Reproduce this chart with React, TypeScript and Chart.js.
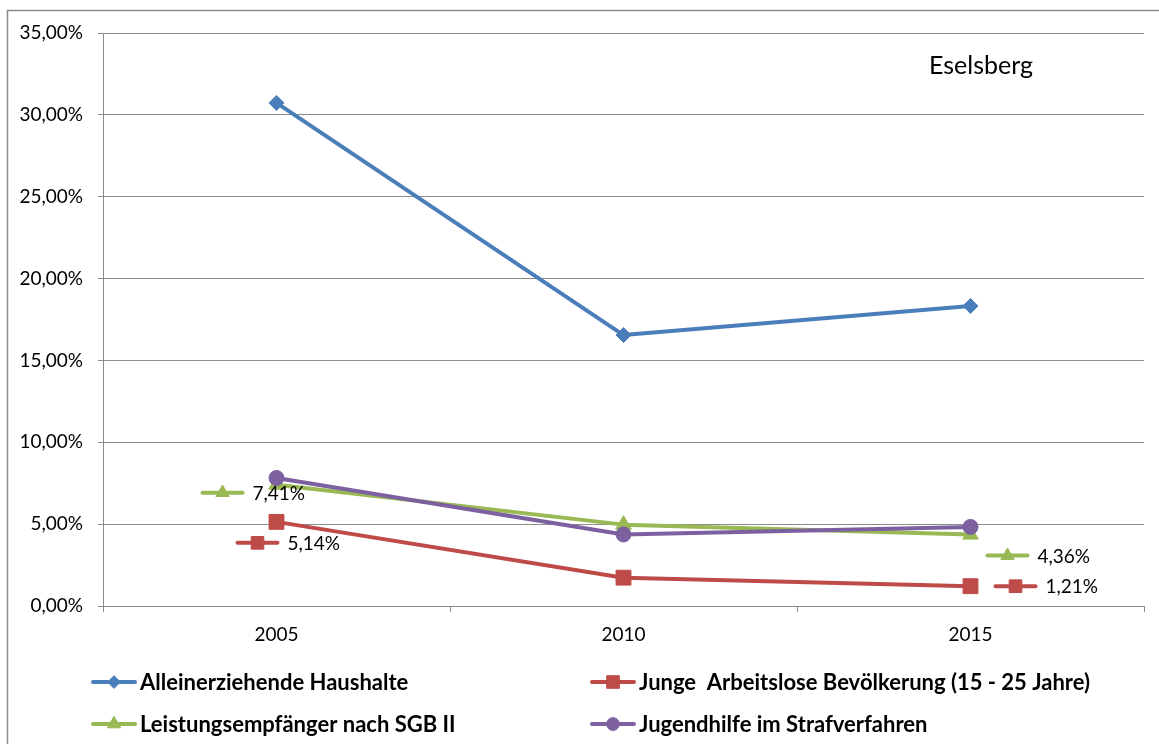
import React, { useEffect, useRef } from 'react';
import { Chart, registerables } from 'chart.js';

Chart.register(...registerables);

// Categories and series (values in percent)
const years = ['2005', '2010', '2015'];
const alleinerziehende = [30.73, 16.55, 18.33];
const jungeArbeitslose = [5.14, 1.73, 1.21];
const leistungsempfaenger = [7.41, 4.97, 4.36];
const jugendhilfe = [7.82, 4.37, 4.83];

const seriesNames = [
  'Alleinerziehende Haushalte',
  'Junge  Arbeitslose Bevölkerung (15 - 25 Jahre)',
  'Leistungsempfänger nach SGB II',
  'Jugendhilfe im Strafverfahren',
];

const chartTitle = 'Eselsberg';
const yMin = 0;
const yMax = 35;
const yStep = 5;

// Which points carry a value label: [series index, category index]
const labelledPoints: [number, number][] = [
  [2, 0],
  [1, 0],
  [2, 2],
  [1, 2],
];

// Styling
const colors = ['#4A7EBB', '#BE4B48', '#98B954', '#7D60A0'];
const pointStyles = ['rectRot', 'rect', 'triangle', 'circle'];
const pointRadii = [7.5, 10.5, 9, 7.5];
const gridColor = '#8c8c8c';
const labelOffsets: [number, number][] = [
  [-54, 8],
  [-19, 21],
  [37, 21],
  [45, 0],
];
const legendSlots: [number, number][] = [
  [93, 682],
  [592, 682],
  [93, 724],
  [592, 724],
];

const fmtPct = (v: number) => v.toFixed(2).replace('.', ',') + '%';

function drawMarker(
  ctx: CanvasRenderingContext2D,
  style: string,
  x: number,
  y: number,
  r: number,
  color: string
) {
  ctx.save();
  ctx.fillStyle = color;
  ctx.strokeStyle = color;
  ctx.lineWidth = 1;
  ctx.beginPath();
  if (style === 'rectRot') {
    ctx.moveTo(x, y - r);
    ctx.lineTo(x + r, y);
    ctx.lineTo(x, y + r);
    ctx.lineTo(x - r, y);
    ctx.closePath();
  } else if (style === 'rect') {
    const s = r * Math.SQRT1_2;
    ctx.rect(x - s, y - s, 2 * s, 2 * s);
  } else if (style === 'triangle') {
    const half = (r * Math.sqrt(3)) / 2;
    ctx.moveTo(x, y - r);
    ctx.lineTo(x + half, y + r / 2);
    ctx.lineTo(x - half, y + r / 2);
    ctx.closePath();
  } else {
    ctx.arc(x, y, r, 0, Math.PI * 2);
  }
  ctx.fill();
  ctx.stroke();
  ctx.restore();
}

// Short line with marker, as used in the legend and value labels
function drawKey(ctx: CanvasRenderingContext2D, series: number, x0: number, y: number, len: number) {
  ctx.save();
  ctx.strokeStyle = colors[series];
  ctx.lineWidth = 4;
  ctx.lineCap = 'round';
  ctx.beginPath();
  ctx.moveTo(x0, y);
  ctx.lineTo(x0 + len, y);
  ctx.stroke();
  ctx.restore();
  drawMarker(ctx, pointStyles[series], x0 + len / 2, y, pointRadii[series] * 0.85, colors[series]);
}

const decorPlugin = {
  id: 'decor',
  beforeDraw(chart: Chart) {
    const ctx = chart.ctx;
    ctx.save();
    ctx.fillStyle = '#ffffff';
    ctx.fillRect(0, 0, chart.width, chart.height);
    ctx.strokeStyle = gridColor;
    ctx.lineWidth = 1.5;
    ctx.strokeRect(7.5, 10.5, chart.width + 20, chart.height + 20);
    ctx.restore();
  },
  afterDraw(chart: Chart) {
    const ctx = chart.ctx;
    const area = chart.chartArea;
    ctx.save();
    // Title inside the plot
    ctx.fillStyle = '#000';
    ctx.font = '25px Lato, "Noto Sans", sans-serif';
    ctx.textAlign = 'left';
    ctx.textBaseline = 'alphabetic';
    ctx.fillText(chartTitle, area.right - 215, area.top + 41);

    // Value labels with their series key
    ctx.font = '19px Lato, "Noto Sans", sans-serif';
    ctx.textBaseline = 'middle';
    labelledPoints.forEach(([s, i], k) => {
      const el: any = chart.getDatasetMeta(s).data[i];
      const v = (chart.data.datasets[s].data as number[])[i];
      const [dx, dy] = labelOffsets[k];
      const cx = el.x + dx;
      const cy = el.y + dy;
      drawKey(ctx, s, cx - 20, cy, 40);
      ctx.fillStyle = '#000';
      ctx.fillText(fmtPct(v), cx + 30, cy + 1);
    });

    // Legend in two columns
    ctx.font = 'bold 22px Lato, "Noto Sans", sans-serif';
    ctx.textBaseline = 'middle';
    chart.data.datasets.forEach((ds, s) => {
      const [lx, ly] = legendSlots[s];
      drawKey(ctx, s, lx, ly, 42);
      ctx.fillStyle = '#000';
      ctx.fillText(String(ds.label), lx + 47, ly + 1);
    });
    ctx.restore();
  },
};

export default function App() {
  const canvasRef = useRef<HTMLCanvasElement | null>(null);

  useEffect(() => {
    if (!canvasRef.current) return;
    const seriesData = [alleinerziehende, jungeArbeitslose, leistungsempfaenger, jugendhilfe];
    const chart = new Chart(canvasRef.current, {
      type: 'line',
      data: {
        labels: years,
        datasets: seriesData.map((d, s) => ({
          label: seriesNames[s],
          data: d,
          borderColor: colors[s],
          backgroundColor: colors[s],
          borderWidth: 4,
          borderJoinStyle: 'round' as const,
          borderCapStyle: 'round' as const,
          pointStyle: pointStyles[s] as any,
          pointRadius: pointRadii[s],
          pointBorderWidth: 1,
          pointBackgroundColor: colors[s],
          pointBorderColor: colors[s],
          tension: 0,
          fill: false,
          order: seriesData.length - s,
        })),
      },
      options: {
        responsive: false,
        animation: false,
        events: [],
        layout: { padding: { left: 0, top: 33, right: 15, bottom: 0 } },
        plugins: {
          legend: { display: false },
          title: { display: false },
          tooltip: { enabled: false },
        },
        scales: {
          x: {
            type: 'category',
            offset: true,
            grid: {
              display: true,
              drawOnChartArea: false,
              drawTicks: true,
              tickLength: 6,
              color: gridColor,
              offset: true,
            },
            border: { display: true, color: gridColor, width: 1 },
            ticks: {
              color: '#000',
              padding: 11,
              font: { family: 'Lato, "Noto Sans", sans-serif', size: 19 },
            },
            afterFit: (scale: any) => {
              scale.height = 138;
            },
          },
          y: {
            min: yMin,
            max: yMax,
            ticks: {
              stepSize: yStep,
              color: '#000',
              padding: 15,
              font: { family: 'Lato, "Noto Sans", sans-serif', size: 19 },
              callback: (v: any) => fmtPct(Number(v)),
            },
            grid: { color: gridColor, tickLength: 5, drawTicks: true },
            border: { display: true, color: gridColor, width: 1 },
            afterFit: (scale: any) => {
              scale.width = 103;
            },
          },
        },
      },
      plugins: [decorPlugin],
    });
    return () => chart.destroy();
  }, []);

  return (
    <div style={{ position: 'absolute', left: 0, top: 0, width: 1159, height: 744, background: '#fff' }}>
      <canvas ref={canvasRef} width={1159} height={744} style={{ display: 'block' }} />
    </div>
  );
}
